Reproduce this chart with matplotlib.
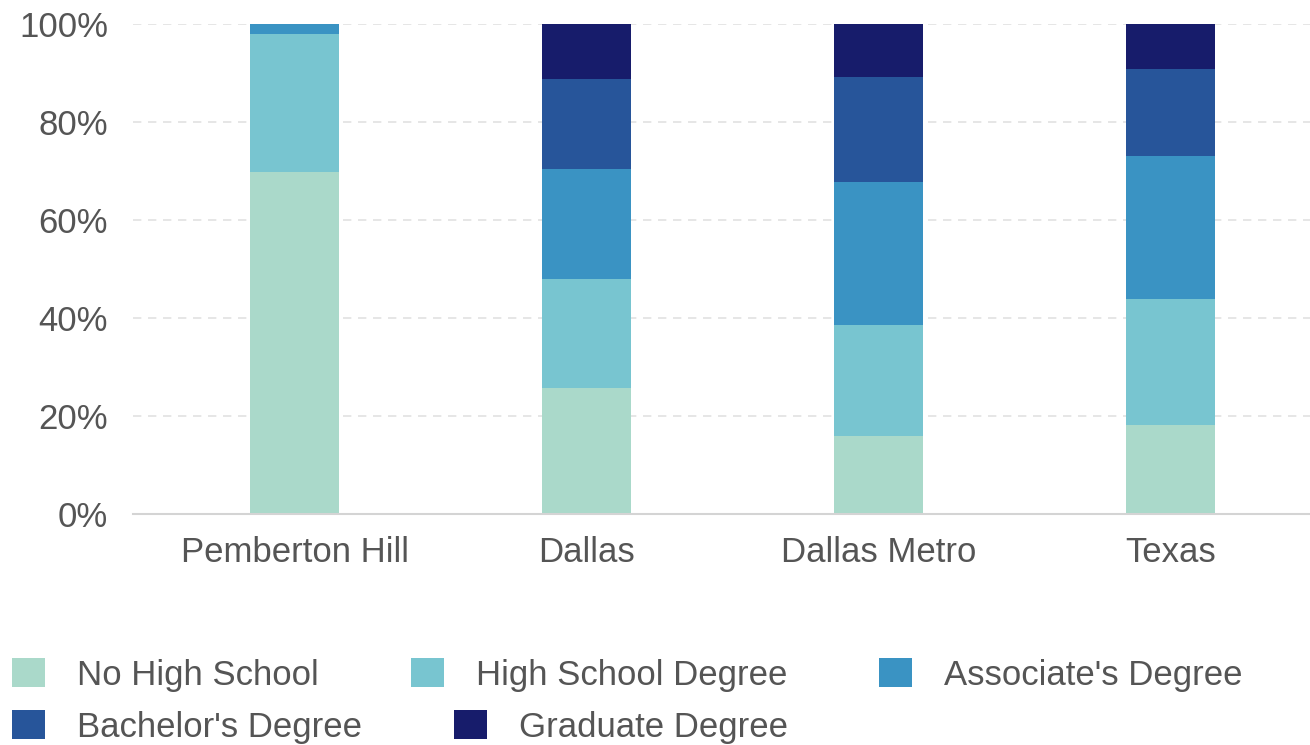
import matplotlib.pyplot as plt
from matplotlib.ticker import PercentFormatter

plt.rcParams['font.family'] = ['Liberation Sans', 'DejaVu Sans']

places = ["Pemberton Hill", "Dallas", "Dallas Metro", "Texas"]
levels = ["No High School", "High School Degree", "Associate's Degree",
          "Bachelor's Degree", "Graduate Degree"]

# share of adults (%) by highest education level
no_high_school = [69.8, 25.7, 15.9, 18.1]
high_school = [28.2, 22.2, 22.6, 25.7]
associates = [2.0, 22.4, 29.3, 29.2]
bachelors = [0.0, 18.4, 21.4, 17.7]
graduate = [0.0, 11.3, 10.8, 9.3]

series = [no_high_school, high_school, associates, bachelors, graduate]
colors = ["#aad9ca", "#78c5d0", "#3a93c3", "#27559a", "#171c6b"]
text_color = "#555555"

fig = plt.figure(figsize=(13.1, 7.45), dpi=100)
ax = fig.add_axes([0.1015, 0.3105, 0.8985, 0.6575])

x = range(len(places))
bottom = [0.0] * len(places)
bars = []
for vals, col, name in zip(series, colors, levels):
    b = ax.bar(x, vals, width=0.305, bottom=bottom, color=col, label=name,
               linewidth=0, zorder=2)
    bars.append(b)
    bottom = [p + v for p, v in zip(bottom, vals)]

ax.set_xlim(-0.553, 3.476)
ax.set_ylim(0, 100)
ax.set_yticks([0, 20, 40, 60, 80, 100])
ax.yaxis.set_major_formatter(PercentFormatter(decimals=0))
ax.set_xticks(list(x))
ax.set_xticklabels(places)
ax.tick_params(axis='both', length=0, labelsize=25, labelcolor=text_color)
ax.tick_params(axis='y', pad=18)
ax.tick_params(axis='x', pad=16)

ax.grid(axis='y', color='#e2e2e2', linestyle=(0, (5, 4)), linewidth=1.2, zorder=0)
for s in ['top', 'right', 'left']:
    ax.spines[s].set_visible(False)
ax.spines['bottom'].set_color('#d4d4d4')
ax.spines['bottom'].set_linewidth(1.5)

# legend laid out in two flowing rows
leg_kw = dict(frameon=False, fontsize=25, labelcolor=text_color,
              handlelength=0.95, handleheight=0.9, handletextpad=0.92,
              columnspacing=2.65, borderaxespad=0, borderpad=0)
fig.legend(bars[:3], levels[:3], ncol=3, loc='center left',
           bbox_to_anchor=(0.0092, 0.094), **leg_kw)
fig.legend(bars[3:], levels[3:], ncol=2, loc='center left',
           bbox_to_anchor=(0.0092, 0.024), **leg_kw)

fig.savefig("out.png", dpi=100)
